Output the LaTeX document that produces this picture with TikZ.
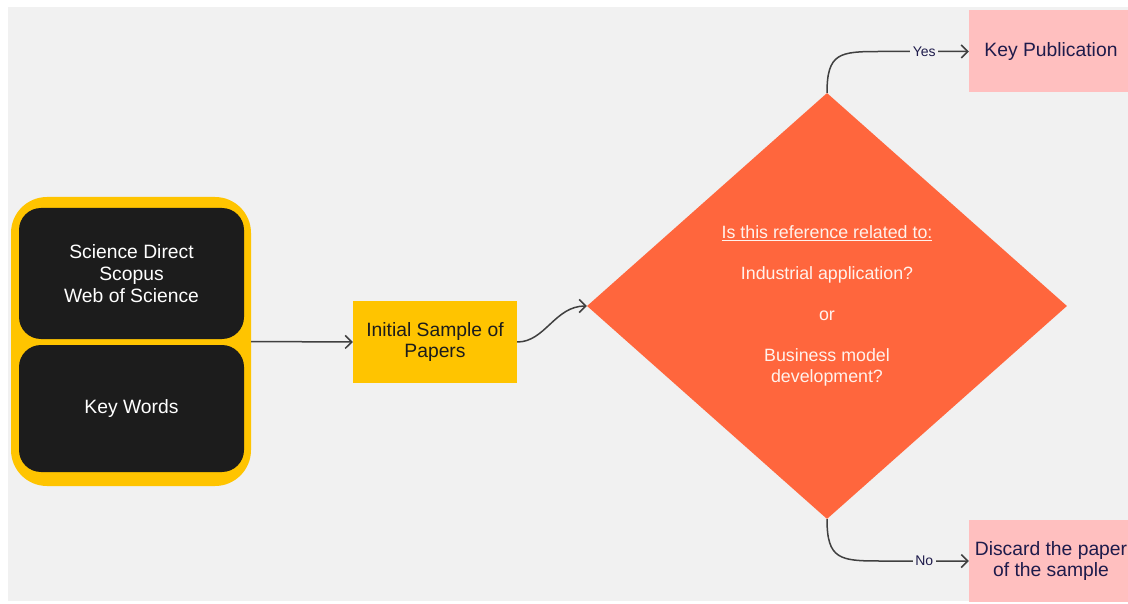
\documentclass[tikz,border=0pt]{standalone}
\usepackage{fontspec}
\setmainfont{Liberation Sans}
\usetikzlibrary{shapes.geometric,arrows.meta,calc}
\definecolor{canvasgray}{HTML}{F1F1F1}
\definecolor{amber}{HTML}{FFC400}
\definecolor{panelblack}{HTML}{1C1C1C}
\definecolor{decorange}{HTML}{FF663D}
\definecolor{softpink}{HTML}{FFBFBF}
\definecolor{inkblue}{HTML}{1E1B4B}
\definecolor{linegray}{HTML}{404040}
\definecolor{paletext}{HTML}{FFF2EC}
\begin{document}
\begin{tikzpicture}[x=1pt,y=-1pt,
  boxfont/.style={font=\fontsize{19.3}{21.8}\selectfont},
  outerbox/.style={draw=none,fill=amber,rounded corners=36pt,minimum width=240pt,minimum height=289pt,inner sep=0pt},
  panel/.style={boxfont,draw=none,fill=panelblack,text=white,rounded corners=22pt,minimum width=225pt,inner sep=0pt,align=center},
  samplebox/.style={boxfont,fill=amber,text=panelblack,minimum width=164pt,minimum height=82pt,inner sep=0pt,align=center},
  resultbox/.style={boxfont,fill=softpink,text=inkblue,minimum width=164pt,minimum height=82pt,inner sep=0pt,align=center},
  decision/.style={diamond,fill=decorange,text=paletext,minimum width=480pt,minimum height=426pt,inner sep=0pt,align=center,font=\fontsize{17.8}{20.5}\selectfont},
  conn/.style={draw=linegray,line width=1.5pt,-{Straight Barb[length=6.5pt,width=13pt,line width=1.5pt]}},
  edgelabel/.style={fill=canvasgray,text=inkblue,inner sep=2.5pt,font=\fontsize{14}{16}\selectfont}]
\useasboundingbox (0,0) rectangle (1128,604);
\fill[white] (0,0) rectangle (1128,604);
\fill[canvasgray] (8,7) rectangle (1128,601);

% sources
\node[outerbox] (src) at (131,341.5) {};
\node[panel,minimum height=131pt] (db) at (131.5,273.5) {Science Direct\\Scopus\\Web of Science};
\node[panel,minimum height=127pt] (kw) at (131.5,408.5) {Key Words};

% sample and decision
\node[samplebox] (init) at (435,342) {Initial Sample of\\Papers};
\node[decision] (dec) at (827,306) {\underline{Is this reference related to:}\\[20.5pt]
  Industrial application?\\[20.5pt] or\\[20.5pt] Business model\\ development?};

% outcomes
\node[resultbox] (kp) at (1051,51.5) {Key Publication};
\node[resultbox] (dis) at (1051,561) {Discard the paper\\of the sample};

% connectors
\draw[conn] (src.east) -- (init.west);
\draw[conn] (init.east) .. controls +(28,0) and +(-32,0) .. (dec.west);
\coordinate (yesbend) at ($(kp.west)+(-89,0)$);
\coordinate (nobend) at ($(dis.west)+(-89,0)$);
\draw[conn] (dec.north) .. controls +(0,-40) and +(-40,0) .. (yesbend) -- node[edgelabel]{Yes} (kp.west);
\draw[conn] (dec.south) .. controls +(0,40) and +(-40,0) .. (nobend) -- node[edgelabel]{No} (dis.west);
\end{tikzpicture}
\end{document}
